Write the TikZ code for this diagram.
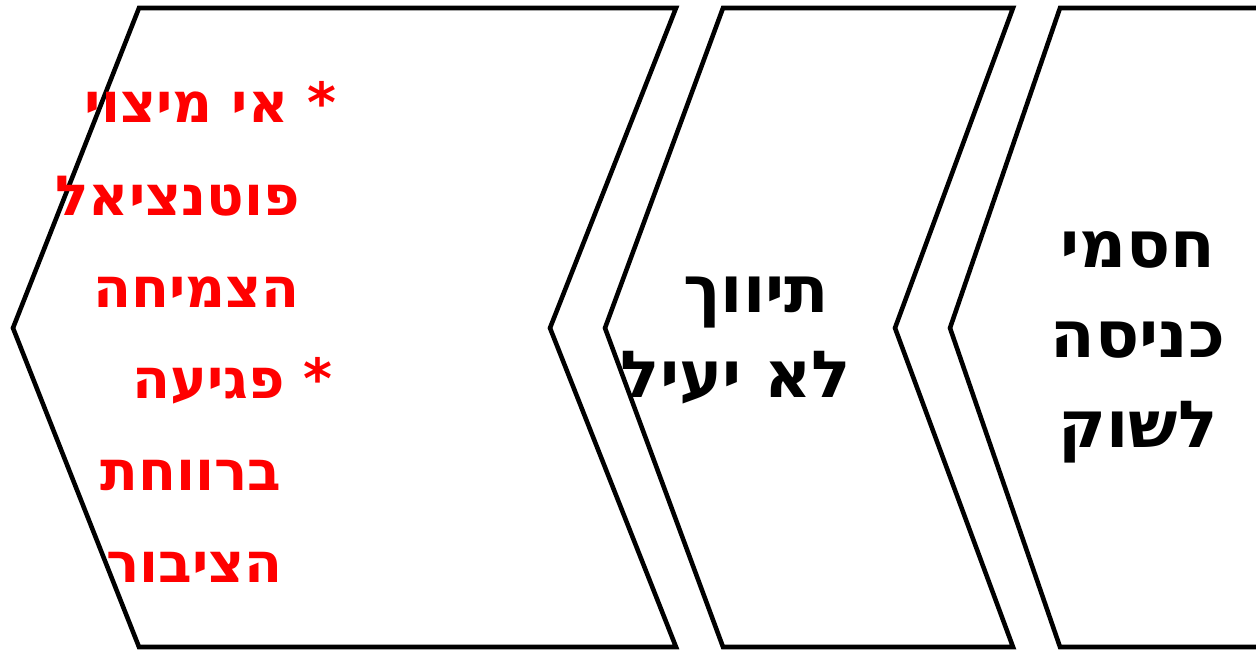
\documentclass[tikz,border=0pt]{standalone}
\usepackage{fontspec}
\newfontfamily\hebfont[Script=Hebrew]{DejaVu Sans}
\TeXXeTstate=1
\usetikzlibrary{positioning}

\begin{document}
\begin{tikzpicture}[
  x=0.02cm, y=-0.02cm,
  chev/.style={draw,line width=2.6pt,line join=miter},
  heb/.style={font=\hebfont\bfseries\fontsize{37}{44}\selectfont,
              inner sep=0pt,anchor=base},
  redline/.style={font=\hebfont\bfseries\fontsize{31.5}{38}\selectfont,
                  inner sep=0pt,text=red,anchor=base east}
]
\useasboundingbox (0,0) rectangle (1256,649);
\clip (0,0) rectangle (1256,649);

% chevrons, right to left
\draw[chev] (1060,8) -- (1300,8) -- (1300,647) -- (1060,647) -- (950,328) -- cycle;
\draw[chev] (723,8) -- (1013,8) -- (895,328) -- (1013,647) -- (723,647) -- (605,328) -- cycle;
\draw[chev] (139,8) -- (676,8) -- (550,328) -- (676,647) -- (139,647) -- (13,328) -- cycle;

% right block
\node[heb] (entry1) at (1138,267) {\beginR חסמי\endR};
\node[heb] (entry2) at (1138,357) {\beginR כניסה\endR};
\node[heb] (entry3) at (1138,447) {\beginR לשוק\endR};

% middle block
\node[heb] (broker1) at (756,312) {\beginR תיווך\endR};
\node[heb] (broker2) at (736,397) {\beginR לא יעיל\endR};

% left block
\node[redline] (loss1) at (337,122) {\beginR* אי מיצוי\endR};
\node[redline] (loss2) at (300,215) {\beginR פוטנציאל\endR};
\node[redline] (loss3) at (300,307) {\beginR הצמיחה\endR};
\node[redline] (loss4) at (333,398) {\beginR* פגיעה\endR};
\node[redline] (loss5) at (282,490) {\beginR ברווחת\endR};
\node[redline] (loss6) at (283,582) {\beginR הציבור\endR};
\end{tikzpicture}
\end{document}
